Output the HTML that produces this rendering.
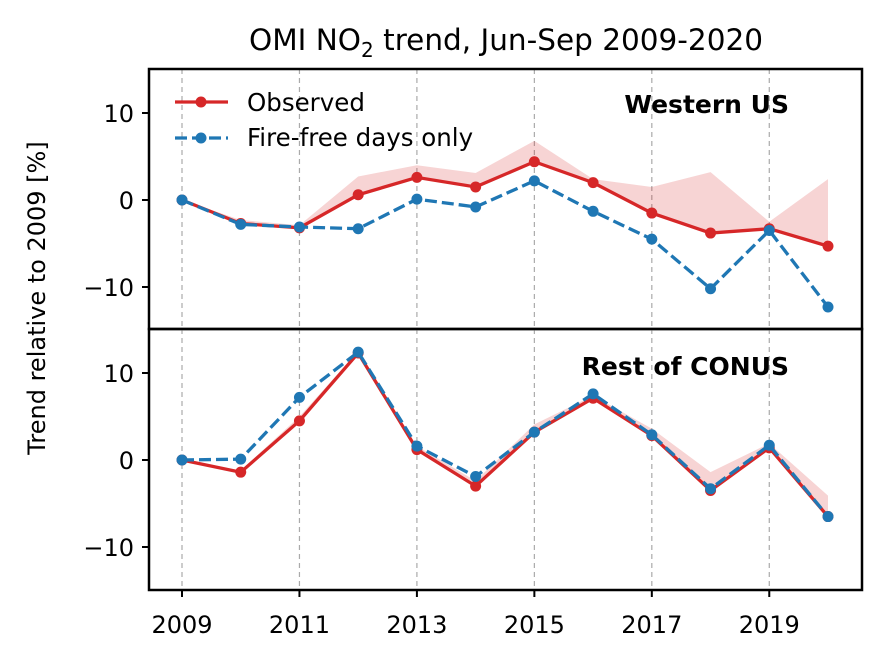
<!DOCTYPE html>
<html><head><meta charset="utf-8"><style>
html,body{margin:0;padding:0;background:#fff;}
svg{display:block;font-family:"DejaVu Sans","Liberation Sans",sans-serif;}
</style></head><body>
<svg id="chart" width="888" height="657" viewBox="0 0 888 657" xmlns="http://www.w3.org/2000/svg">
<text x="506" y="50" text-anchor="middle" font-size="29.5">OMI NO<tspan font-size="20" dy="7">2</tspan><tspan dy="-7"> trend, Jun-Sep 2009-2020</tspan></text>
<text transform="translate(45,298) rotate(-90)" text-anchor="middle" font-size="24">Trend relative to 2009 [%]</text>
<g id="layer"></g>
</svg>
<script>
const years = [2009,2010,2011,2012,2013,2014,2015,2016,2017,2018,2019,2020];
const westObs = [0,-2.7,-3.2,0.6,2.6,1.5,4.4,2.0,-1.5,-3.8,-3.3,-5.3];
const westFree = [0,-2.8,-3.1,-3.3,0.1,-0.8,2.2,-1.3,-4.5,-10.2,-3.5,-12.3];
const westUpper = [0,-2.3,-2.9,2.7,4.0,3.1,6.8,2.4,1.5,3.2,-2.5,2.4];
const restObs = [0,-1.4,4.5,12.3,1.2,-3.0,3.2,7.1,2.8,-3.5,1.4,-6.5];
const restFree = [0,0.1,7.2,12.4,1.6,-1.9,3.2,7.6,2.9,-3.3,1.7,-6.5];
const restUpper = [0,-1.2,5.0,12.5,1.6,-2.4,4.1,7.4,3.6,-1.4,1.9,-4.1];
const yTicks = [-10,0,10];
const xTickYears = [2009,2011,2013,2015,2017,2019];

const NS="http://www.w3.org/2000/svg";
const layer=document.getElementById('layer');
function el(tag,attrs,parent){const e=document.createElementNS(NS,tag);for(const k in attrs)e.setAttribute(k,attrs[k]);(parent||layer).appendChild(e);return e;}
const L=149,R=862;
const xs=y=>182+(y-2009)*(828-182)/11;
const panels=[{top:69,bot:329,zero:200,obs:westObs,free:westFree,up:westUpper,label:'Western US',lx:789,ly:113,name:'western-us'},
{top:329,bot:590,zero:460,obs:restObs,free:restFree,up:restUpper,label:'Rest of CONUS',lx:789,ly:375,name:'rest-of-conus'}];
panels.forEach(p=>{
 const ys=v=>p.zero-v*8.7;
 const g=el('g',{});
 
 
 xTickYears.forEach(y=>{const l=el('line',{x1:xs(y),x2:xs(y),y1:p.top,y2:p.bot,stroke:'#aaa','stroke-width':1.2,'stroke-dasharray':'5,4'},g);
  
  });
 let d='M'+years.map((y,i)=>xs(y)+','+ys(p.up[i])).join('L');
 for(let i=years.length-1;i>=0;i--)d+='L'+xs(years[i])+','+ys(p.obs[i]);
 const a=el('path',{d:d+'Z',fill:'#d62728','fill-opacity':0.2},g);
 
 
 const po=el('polyline',{points:years.map((y,i)=>xs(y)+','+ys(p.obs[i])).join(' '),fill:'none',stroke:'#d62728','stroke-width':3.3},g);
 
 
 years.forEach((y,i)=>{const c=el('circle',{cx:xs(y),cy:ys(p.obs[i]),r:5.5,fill:'#d62728'},g);
  
  });
 const pf=el('polyline',{points:years.map((y,i)=>xs(y)+','+ys(p.free[i])).join(' '),fill:'none',stroke:'#1f77b4','stroke-width':3.3,'stroke-dasharray':'12,5'},g);
 
 
 years.forEach((y,i)=>{const c=el('circle',{cx:xs(y),cy:ys(p.free[i]),r:5.5,fill:'#1f77b4'},g);
  
  });
 yTicks.forEach(v=>{el('line',{x1:L-7,x2:L,y1:ys(v),y2:ys(v),stroke:'#000','stroke-width':2},g);
  const t=el('text',{x:L-15,y:ys(v)+9,'text-anchor':'end','font-size':24},g);t.textContent=v<0?'\u2212'+(-v):v;
  
  });
 const lb=el('text',{x:p.lx,y:p.ly,'text-anchor':'end','font-size':25,'font-weight':'bold'},g);lb.textContent=p.label;
 
 
 el('rect',{x:L,y:p.top,width:R-L,height:p.bot-p.top,fill:'none',stroke:'#000','stroke-width':2.5},g);
});
xTickYears.forEach(y=>{el('line',{x1:xs(y),x2:xs(y),y1:590,y2:597,stroke:'#000','stroke-width':2});
 const t=el('text',{x:xs(y),y:633,'text-anchor':'middle','font-size':24});t.textContent=y;
 
 });
const lg=el('g',{});


el('line',{x1:175,x2:228,y1:102,y2:102,stroke:'#d62728','stroke-width':3.3},lg);
el('circle',{cx:201,cy:102,r:5.5,fill:'#d62728'},lg);
const t1=el('text',{x:247,y:111,'font-size':24.5},lg);t1.textContent='Observed';


el('line',{x1:175,x2:228,y1:138,y2:138,stroke:'#1f77b4','stroke-width':3.3,'stroke-dasharray':'12,5'},lg);
el('circle',{cx:201,cy:138,r:5.5,fill:'#1f77b4'},lg);
const t2=el('text',{x:247,y:146,'font-size':24.5},lg);t2.textContent='Fire-free days only';


</script>
</body></html>
